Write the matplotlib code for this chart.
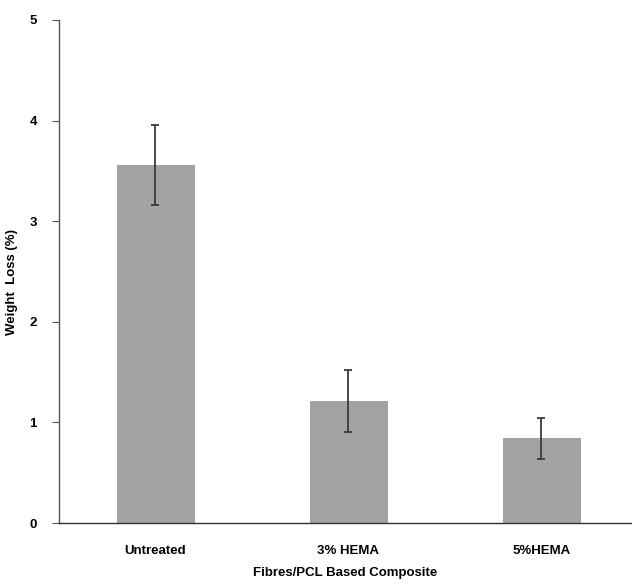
import numpy as np
import matplotlib
matplotlib.use("Agg")
import matplotlib.pyplot as plt

plt.rcParams['font.family'] = ['Liberation Sans', 'DejaVu Sans']

categories = ['Untreated', '3% HEMA', '5%HEMA']
weight_loss = [3.56, 1.21, 0.84]
errors = [0.40, 0.31, 0.20]

fig = plt.figure(figsize=(6.32, 5.84), dpi=100)
ax = fig.add_axes([59/632, 61/584, (632-59)/632, 503/584])

x = np.arange(len(categories))
ax.bar(x, weight_loss, width=0.4, color='#a3a3a3', edgecolor='#999999', linewidth=0.6, zorder=2)
ax.errorbar(x, weight_loss, yerr=errors, fmt='none', ecolor='#3a3a3a',
            elinewidth=1.3, capsize=3, capthick=1.3, zorder=3)

ax.set_xlim(-0.5, 2.47)
ax.set_ylim(0, 5)
ax.set_yticks([0, 1, 2, 3, 4, 5])
ax.set_xticks(x)
ax.set_xticklabels(categories, fontsize=9.5, fontweight='bold')
ax.tick_params(axis='x', length=0, pad=16)
ax.tick_params(axis='y', length=5, width=0.8, labelsize=9.5, pad=11, color='#555555')
for lab in ax.get_yticklabels():
    lab.set_fontweight('bold')

for s in ['top', 'right']:
    ax.spines[s].set_visible(False)
ax.spines['left'].set_color('#555555')
ax.spines['bottom'].set_color('#333333')
ax.spines['left'].set_linewidth(1.0)
ax.spines['bottom'].set_linewidth(1.0)

ax.set_xlabel('Fibres/PCL Based Composite', fontsize=9.5, fontweight='bold', labelpad=7)
ax.set_ylabel('Weight  Loss (%)', fontsize=9.5, fontweight='bold')
ax.yaxis.set_label_coords(-0.072, 0.48)

fig.savefig('out.png', dpi=100)
